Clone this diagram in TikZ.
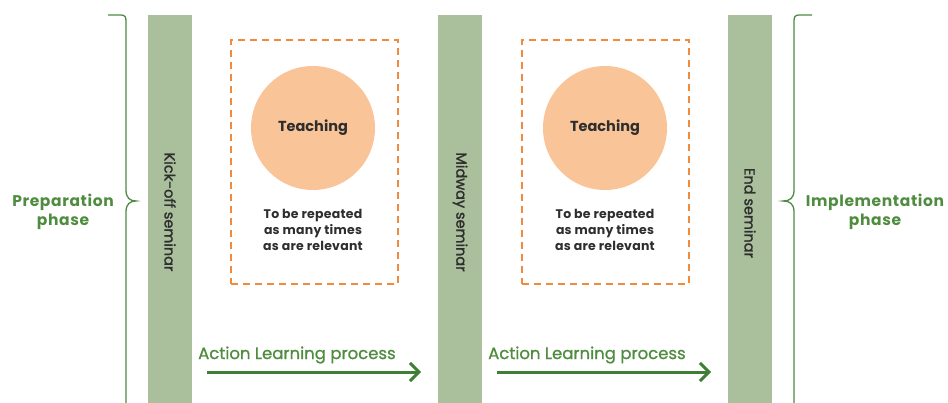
\documentclass[tikz,border=0pt]{standalone}
\usepackage{fontspec}
\setmainfont{Poppins}
\usetikzlibrary{arrows.meta}
\definecolor{barg}{HTML}{AABF9C}
\definecolor{brg}{HTML}{4E8B43}
\definecolor{txg}{HTML}{4F8C3F}
\definecolor{arg}{HTML}{3F7F35}
\definecolor{orng}{HTML}{F08A3C}
\definecolor{circ}{HTML}{F9C498}
\definecolor{dk}{HTML}{2E2E2E}
\tikzset{
  bar/.style={fill=barg, draw=none, minimum width=44pt, minimum height=388pt, inner sep=0pt, anchor=north},
  bartxt/.style={rotate=-90, text=dk, font=\fontsize{14.5}{15}\selectfont\addfontfeature{FakeBold=1.5}},
  dbox/.style={draw=orng, dash pattern=on 7pt off 5pt, line width=2pt, minimum width=167pt, minimum height=244pt, inner sep=0pt, anchor=north west},
  teach/.style={circle, fill=circ, minimum size=124pt, inner sep=0pt, text=dk, font=\fontsize{14.5}{15}\selectfont\bfseries},
  rep/.style={align=center, text=dk, font=\fontsize{12.5}{16}\selectfont\bfseries\addfontfeature{LetterSpace=2}},
  phase/.style={align=center, text=txg, font=\fontsize{15.5}{19}\selectfont\bfseries\addfontfeature{LetterSpace=4}},
  brace/.style={draw=brg, line width=1.3pt},
  flow/.style={draw=arg, line width=3pt, -{Straight Barb[length=9pt, width=18pt, line width=3pt]}},
  flowtxt/.style={text=txg, font=\fontsize{16.5}{16}\selectfont\addfontfeature{FakeBold=1}, anchor=west, inner sep=0pt}
}
\begin{document}
\begin{tikzpicture}[x=1pt, y=-1pt]
\useasboundingbox (0,0) rectangle (948,403);
% bars
\node[bar] (b1) at (170,15) {};
\node[bar] (b2) at (460,15) {};
\node[bar] (b3) at (750,15) {};
\node[bartxt] (t1) at (170,212) {Kick-off seminar};
\node[bartxt] (t2) at (460,212) {Midway seminar};
\node[bartxt] (t3) at (750,213) {End seminar};
% dashed boxes
\node[dbox] (d1) at (230,39) {};
\node[dbox] (d2) at (521,39) {};
\node[teach] (c1) at (313,128) {Teaching};
\node[teach] (c2) at (605,128) {Teaching};
\node[rep] (r1) at (313,230) {To be repeated\\as many times\\as are relevant};
\node[rep] (r2) at (605,230) {To be repeated\\as many times\\as are relevant};
% braces
\draw[brace] (108,15) -- (121,15) .. controls (125,15) and (126,17) .. (126,21) -- (126,190) .. controls (126,198) and (130,201) .. (136,201) .. controls (130,201) and (126,204) .. (126,212) -- (126,403);
\draw[brace] (812,15) -- (799,15) .. controls (795,15) and (794,17) .. (794,21) -- (794,190) .. controls (794,198) and (790,201) .. (783,201) .. controls (790,201) and (794,204) .. (794,212) -- (794,403);
\node[phase] (p1) at (63,212) {Preparation\\phase};
\node[phase] (p2) at (875,212) {Implementation\\phase};
% arrows
\coordinate (a1s) at (207,372);
\coordinate (a1e) at (421,372);
\coordinate (a2s) at (497,372);
\coordinate (a2e) at (711,372);
\draw[flow] (a1s) -- (a1e);
\draw[flow] (a2s) -- (a2e);
\node[flowtxt] (l1) at (198,355) {Action Learning process};
\node[flowtxt] (l2) at (488,355) {Action Learning process};
\end{tikzpicture}
\end{document}
